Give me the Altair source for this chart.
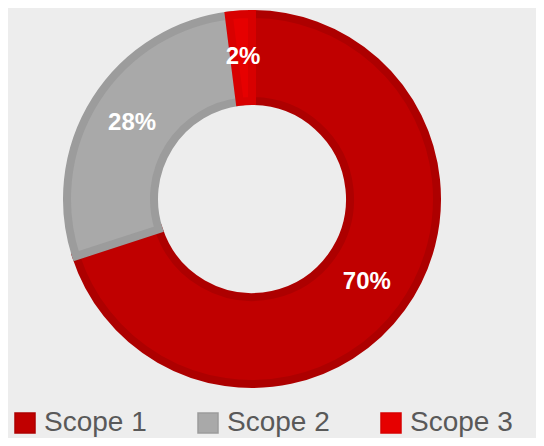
import altair as alt
import pandas as pd

categories = ["Scope 1", "Scope 2", "Scope 3"]
values = [70, 28, 2]
labels = ["70%", "28%", "2%"]
order = [1, 2, 3]
fill_colors = ["#c00000", "#a9a9a9", "#e60000"]
stroke_colors = ["#ad0000", "#9c9c9c", "#d80000"]

df = pd.DataFrame({"cat": categories, "value": values, "label": labels, "ord": order})

legend = alt.Legend(
    title=None,
    orient="none",
    legendX=3,
    legendY=401,
    direction="horizontal",
    symbolType="square",
    symbolSize=400,
    symbolStrokeWidth=1.5,
    labelFontSize=28,
    labelFont="Liberation Sans",
    labelColor="#595959",
    labelOffset=5,
    columnPadding=47,
    padding=0,
)

base = alt.Chart(df).encode(
    theta=alt.Theta("value:Q", stack=True),
    order=alt.Order("ord:Q"),
    x=alt.value(244),
    y=alt.value(191),
)

arcs = base.mark_arc(outerRadius=185, innerRadius=98, strokeWidth=8).encode(
    fill=alt.Fill("cat:N", scale=alt.Scale(domain=categories, range=fill_colors), legend=legend),
    stroke=alt.Stroke("cat:N", scale=alt.Scale(domain=categories, range=stroke_colors), legend=legend),
)

text = base.mark_text(
    radius=142,
    fontSize=24,
    fontWeight="bold",
    font="Liberation Sans",
    color="white",
    align="center",
    baseline="middle",
).encode(text="label:N")

chart = (
    alt.layer(arcs, text)
    .properties(width=528, height=430, autosize=alt.AutoSizeParams(type="none"), padding=0)
    .configure(background="#ededed")
    .configure_view(stroke=None)
)

chart.save("out.html", embed_options={"renderer": "svg", "actions": False})
